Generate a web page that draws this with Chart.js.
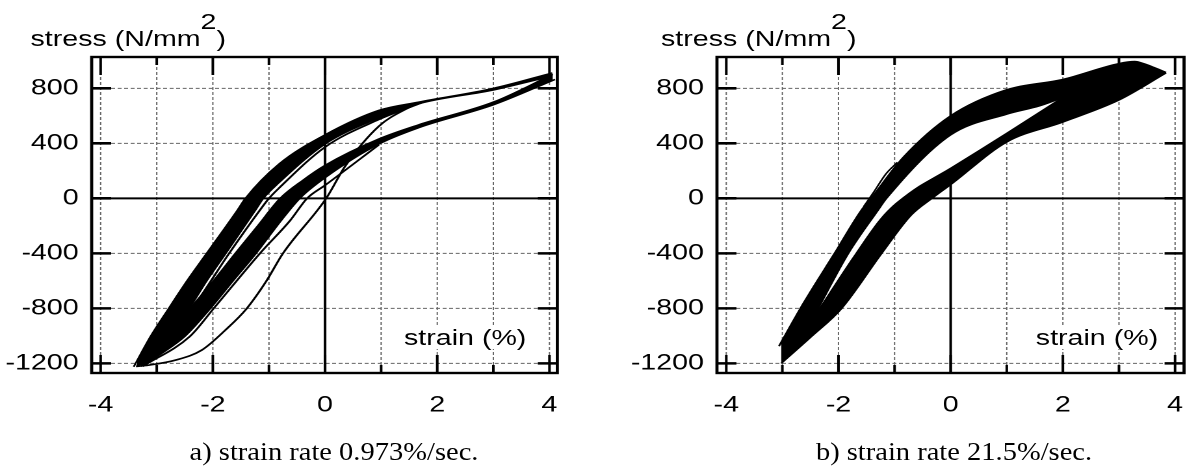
<!DOCTYPE html>
<html>
<head>
<meta charset="utf-8">
<title>stress-strain hysteresis</title>
<script src="https://cdn.jsdelivr.net/npm/chart.js@4.4.1/dist/chart.umd.min.js"></script>
<style>
  html, body { margin: 0; padding: 0; background: #fff; }
  body { width: 1192px; height: 472px; overflow: hidden; position: relative; }
  /* figure is laid out narrow, then stretched sideways like the printed plot */
  #figure { position: absolute; left: 0; top: 0; width: 917px; height: 472px;
            transform: scaleX(1.3); transform-origin: 0 0; }
  .panel { position: absolute; top: 0; height: 430px; }
  #panelA { left: 0; width: 458px; }
  #panelB { left: 458px; width: 459px; }
  .panel canvas { display: block; }
  .ylab, .xlab { position: absolute; font: 22px 'Liberation Sans', Arial, sans-serif;
                 line-height: 22px; white-space: nowrap; color: #000; }
  .ylab .sq { position: relative; top: -17px; }
  .xlab { background: #fff; padding: 0 2px; }
  /* captions sit under the panels, less stretched than the plot */
  .caption { position: absolute; top: 439px; width: 400px; text-align: center;
             font: 25px 'Liberation Serif', 'Times New Roman', serif; line-height: 25px;
             white-space: nowrap; color: #000; transform: scaleX(1.14); }
</style>
</head>
<body>
<div id="figure">
  <div class="panel" id="panelA"><canvas id="chartA"></canvas></div>
  <div class="panel" id="panelB"><canvas id="chartB"></canvas></div>

  <div class="ylab" style="left:23.5px; top:28px;">stress (N/mm<span class="sq">2</span>)</div>
  <div class="ylab" style="left:508.5px; top:28px;">stress (N/mm<span class="sq">2</span>)</div>

  <div class="xlab" style="left:308.8px; top:326.5px;">strain (%)</div>
  <div class="xlab" style="left:794.8px; top:326.5px;">strain (%)</div>
</div>
<div class="caption" style="left:133.5px;">a) strain rate 0.973%/sec.</div>
<div class="caption" style="left:753.5px;">b) strain rate 21.5%/sec.</div>

<script>
// labelled ticks, the others are minor
const strainTicks = [-4, -2, 0, 2, 4];
const stressTicks = [-1200, -800, -400, 0, 400, 800];

// a) 0.973 %/sec  [strain %, stress N/mm2]
// band of reloading cycles (strain increasing), its two edges
const aUpperOuter = [[-3.41,-1225],[-3.11,-1004],[-2.79,-803],[-2.46,-600],[-2.11,-400],[-1.56,-85],[-1.42,0],[-0.82,250],[0,462],[0.96,640],[1.67,700],[3.0,800],[4.05,912]];
const aUpperInner = [[-3.35,-1215],[-2.85,-1004],[-2.43,-803],[-2.11,-600],[-1.77,-400],[-1.24,-85],[-1.10,0],[-0.82,115],[0,395],[0.96,584],[1.67,688],[3.0,788],[4.03,888]];
// band of unloading cycles (strain decreasing)
const aLowerTop = [[-3.33,-1218],[-3.12,-1127],[-2.83,-1004],[-2.41,-803],[-1.99,-600],[-1.60,-400],[-1.20,-200],[-0.80,0],[-0.40,130],[0,240],[0.96,432],[1.67,535],[3.0,700],[4.06,902]];
const aLowerBottom = [[-3.28,-1222],[-2.91,-1127],[-2.50,-1004],[-2.05,-803],[-1.64,-600],[-1.23,-400],[-0.78,-160],[-0.45,0],[0,150],[0.96,395],[1.67,514],[3.0,680],[4.10,865]];
// single cycles that stand apart from the bands
const aUpperThin = [[-3.30,-1212],[-2.78,-1004],[-2.37,-803],[-1.71,-400],[-1.16,-85],[-1.0,0],[-0.82,75],[0,373],[0.96,574],[1.67,688]];
const aLowerThin = [[-3.25,-1222],[-2.41,-1004],[-1.99,-803],[-1.16,-400],[-0.62,-160],[-0.32,0],[0,95],[0.96,390]];
const aFirst = [[-3.37,-1222],[-3.15,-1213],[-2.67,-1177],[-2.20,-1104],[-1.78,-959],[-1.40,-803],[-1.05,-604],[-0.75,-400],[0.02,0],[0.36,235],[0.96,525],[1.43,647],[1.75,700]];

// b) 21.5 %/sec
// outline of all cycles together
const bOuterTop = [[-3.06,-1075],[-2.62,-760],[-2.07,-400],[-1.59,-85],[-1.42,0],[-0.84,300],[0,600],[1.0,790],[2.0,865],[3.0,980],[3.28,995],[3.45,978],[3.62,952],[3.84,915]];
const bOuterBottom = [[-3.02,-1200],[-2.48,-1004],[-1.95,-803],[-1.23,-400],[-0.70,-120],[-0.30,10],[0,100],[1.0,410],[2.0,555],[3.0,715],[3.84,912]];
// open inside of the loop
const bInnerTop = [[-2.39,-825],[-1.82,-400],[-1.29,-85],[-1.14,0],[0,460],[1.0,611],[1.58,671],[1.92,720]];
const bInnerBottom = [[-2.39,-825],[-1.70,-400],[-1.20,-120],[-0.75,40],[0,225],[1.0,480],[1.92,720]];
const bSpike = [[-1.55,-60],[-1.38,40],[-1.15,180],[-0.95,262]];

Chart.defaults.font.family = "'Liberation Sans', Arial, sans-serif";
Chart.defaults.font.size = 22;
Chart.defaults.color = '#000';

const toXY = pairs => pairs.map(p => ({x: p[0], y: p[1]}));

function curve(pairs, opts) {
  return Object.assign({
    data: toXY(pairs),
    borderColor: '#000',
    backgroundColor: '#000',
    borderWidth: 1.5,
    fill: false,
    pointRadius: 0,
    cubicInterpolationMode: 'monotone',
    order: 1
  }, opts);
}

// dotted grid, solid zero axes, frame and inward ticks on all four sides
const frame = {
  id: 'frame',
  beforeDatasetsDraw(chart) {
    const {ctx, chartArea: a, scales: {x, y}} = chart;
    ctx.save();
    ctx.strokeStyle = '#666';
    ctx.lineWidth = 1;
    ctx.setLineDash([3, 2]);
    ctx.beginPath();
    for (const t of x.ticks) {
      if (t.value === 0) continue;
      const px = x.getPixelForValue(t.value);
      ctx.moveTo(px, a.top); ctx.lineTo(px, a.bottom);
    }
    for (const t of y.ticks) {
      if (t.value === 0) continue;
      const py = y.getPixelForValue(t.value);
      ctx.moveTo(a.left, py); ctx.lineTo(a.right, py);
    }
    ctx.stroke();
    ctx.setLineDash([]);
    ctx.strokeStyle = '#000';
    ctx.lineWidth = 2;
    const x0 = x.getPixelForValue(0), y0 = y.getPixelForValue(0);
    ctx.beginPath();
    ctx.moveTo(x0, a.top); ctx.lineTo(x0, a.bottom);
    ctx.moveTo(a.left, y0); ctx.lineTo(a.right, y0);
    ctx.stroke();
    ctx.restore();
  },
  afterDatasetsDraw(chart) {
    const {ctx, chartArea: a, scales: {x, y}} = chart;
    ctx.save();
    ctx.strokeStyle = '#000';
    ctx.lineWidth = 2;
    ctx.beginPath();
    for (const t of x.ticks) {
      const px = x.getPixelForValue(t.value);
      const len = strainTicks.includes(t.value) ? 18 : 8;
      ctx.moveTo(px, a.top); ctx.lineTo(px, a.top + len);
      ctx.moveTo(px, a.bottom); ctx.lineTo(px, a.bottom - len);
    }
    ctx.stroke();
    ctx.lineWidth = 2.6;
    ctx.beginPath();
    for (const t of y.ticks) {
      const py = y.getPixelForValue(t.value);
      const len = stressTicks.includes(t.value) ? 15 : 8;
      ctx.moveTo(a.left, py); ctx.lineTo(a.left + len, py);
      ctx.moveTo(a.right, py); ctx.lineTo(a.right - len, py);
    }
    ctx.stroke();
    ctx.lineWidth = 2.4;
    ctx.strokeRect(a.left, a.top, a.right - a.left, a.bottom - a.top);
    ctx.restore();
  }
};

function drawPanel(id, xMin, xMax, axisWidth, padRight, datasets) {
  return new Chart(document.getElementById(id), {
    type: 'line',
    data: { datasets: datasets },
    options: {
      responsive: true,
      maintainAspectRatio: false,
      animation: false,
      devicePixelRatio: 2,
      events: [],
      layout: { padding: { left: 0, top: 57, right: padRight, bottom: 0 } },
      plugins: { legend: { display: false }, tooltip: { enabled: false } },
      scales: {
        x: {
          type: 'linear', min: xMin, max: xMax,
          grid: { display: false, drawTicks: false },
          border: { display: false },
          ticks: {
            stepSize: 1, autoSkip: false, maxRotation: 0, includeBounds: false, padding: 19,
            callback: v => strainTicks.includes(v) ? String(v) : ''
          },
          afterFit(s) { s.height = 57; s.paddingLeft = 0; s.paddingRight = 0; }
        },
        y: {
          type: 'linear', min: -1270, max: 1028,
          grid: { display: false, drawTicks: false },
          border: { display: false },
          ticks: {
            stepSize: 200, includeBounds: false, padding: 10,
            callback: v => stressTicks.includes(v) ? String(v) : ''
          },
          afterFit(s) { s.width = axisWidth; s.paddingTop = 0; s.paddingBottom = 0; }
        }
      }
    },
    plugins: [frame]
  });
}

drawPanel('chartA', -4.16, 4.14, 70.5, 29.3, [
  curve(aUpperOuter, { fill: '+1', order: 2 }),
  curve(aUpperInner, { order: 2 }),
  curve(aLowerTop, { fill: '+1', order: 2 }),
  curve(aLowerBottom, { order: 2 }),
  curve(aUpperThin, { borderWidth: 1.7 }),
  curve(aLowerThin, { borderWidth: 1.7 }),
  curve(aFirst, { borderWidth: 1.7 })
]);

drawPanel('chartB', -4.166, 4.16, 93.5, 6.2, [
  curve(bOuterTop, { fill: '+1', order: 3 }),
  curve(bOuterBottom, { order: 3 }),
  curve(bInnerTop, { fill: '+1', backgroundColor: '#fff', borderWidth: 1.2, order: 2 }),
  curve(bInnerBottom, { borderWidth: 1.2, order: 2 }),
  curve(bSpike, { borderWidth: 1.4 })
]);
</script>
</body>
</html>
